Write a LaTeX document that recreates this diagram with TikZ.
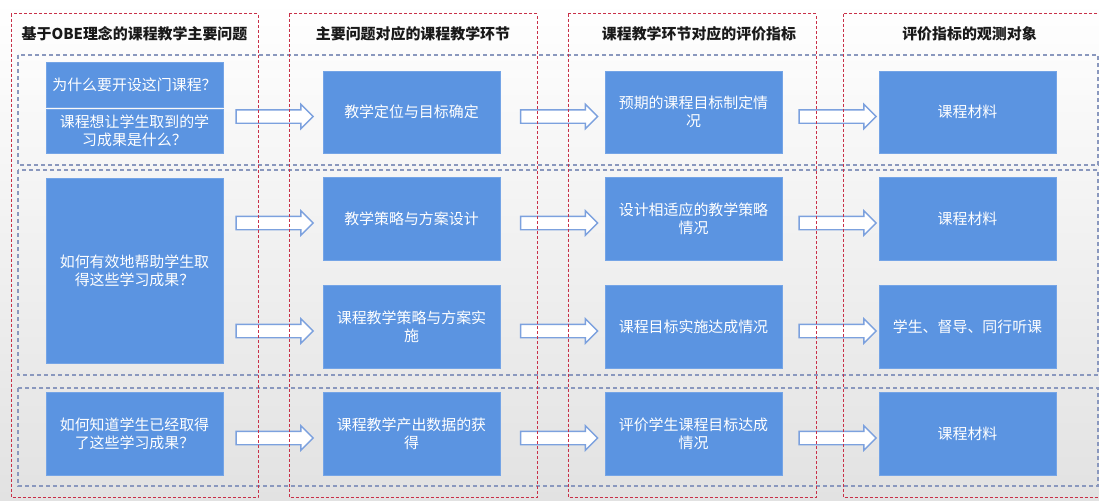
\documentclass[tikz,border=0pt]{standalone}
\usepackage{fontspec}
\newfontfamily\cjk{Noto Sans CJK SC}
\usetikzlibrary{shapes.arrows,calc}
\definecolor{boxblue}{RGB}{91,148,225}
\definecolor{redline}{RGB}{200,48,72}
\definecolor{rowline}{RGB}{138,152,190}
\definecolor{arrowline}{RGB}{124,161,222}
\definecolor{bgbottom}{RGB}{226,226,226}
\begin{document}
\begin{tikzpicture}[x=0.75pt,y=-0.75pt,
  box/.style={fill=boxblue, draw=boxblue!85!white, line width=0.4pt, text=white,
    minimum width=132.75pt, minimum height=62.25pt, inner sep=2pt, align=center,
    font=\cjk\fontsize{11.2pt}{13.6pt}\selectfont},
  coltitle/.style={font=\cjk\bfseries\fontsize{11.2pt}{13pt}\selectfont, text=black!90, inner sep=0pt},
  colframe/.style={draw=redline, line width=0.65pt, dash pattern=on 2.25pt off 1.5pt},
  rowframe/.style={draw=rowline, line width=0.9pt, dash pattern=on 3pt off 2.25pt},
  barrow/.style={single arrow, draw=arrowline, fill=white, line width=1.1pt,
    minimum height=57.75pt, single arrow head extend=4.1pt, inner xsep=0pt,
    inner ysep=4.5pt, single arrow tip angle=90}
]
\clip (0,0) rectangle (1099,500);
\shade[top color=white, bottom color=bgbottom] (0,0) rectangle (1099,500);

% row frames
\draw[rowframe] (18,55) rectangle (1098,165);
\draw[rowframe] (18,170) rectangle (1098,375);
\draw[rowframe] (18,388) rectangle (1098,486);

% titles
\node[coltitle] (h1) at (134.5,34) {基于OBE理念的课程教学主要问题};
\node[coltitle] (h2) at (413,34) {主要问题对应的课程教学环节};
\node[coltitle] (h3) at (699,34) {课程教学环节对应的评价指标};
\node[coltitle] (h4) at (969.5,34) {评价指标的观测对象};

% column 1
\node[box, minimum height=33.75pt] (q1a) at (134.5,84.5) {为什么要开设这门课程？};
\node[box, minimum height=33pt] (q1b) at (134.5,131) {课程想让学生取到的学\\习成果是什么？};
\node[box, minimum height=138.75pt] (q2) at (134.5,270.5) {如何有效地帮助学生取\\得这些学习成果？};
\node[box] (q3) at (134.5,433.5) {如何知道学生已经取得\\了这些学习成果？};

% column 2
\node[box, minimum height=61.5pt] (s1) at (411.5,112) {教学定位与目标确定};
\node[box] (s2) at (411.5,218.5) {教学策略与方案设计};
\node[box] (s3) at (411.5,326.5) {课程教学策略与方案实\\施};
\node[box] (s4) at (411.5,433.5) {课程教学产出数据的获\\得};

% column 3
\node[box, minimum height=61.5pt] (t1) at (693.5,112) {预期的课程目标制定情\\况};
\node[box] (t2) at (693.5,218.5) {设计相适应的教学策略\\情况};
\node[box] (t3) at (693.5,326.5) {课程目标实施达成情况};
\node[box] (t4) at (693.5,433.5) {评价学生课程目标达成\\情况};

% column 4
\node[box, minimum height=61.5pt] (u1) at (967.5,112) {课程材料};
\node[box] (u2) at (967.5,218.5) {课程材料};
\node[box] (u3) at (967.5,326.5) {学生、督导、同行听课};
\node[box] (u4) at (967.5,433.5) {课程材料};

% block arrows
\foreach \n in {1,2,3,4}{
  \node[barrow] (ar\n) at ($(s\n.west)+(-51.5,4.5)$) {};
  \node[barrow] (br\n) at ($(t\n.west)+(-49,4.5)$) {};
  \node[barrow] (cr\n) at ($(u\n.west)+(-44.5,4.5)$) {};
}

% column frames
\draw[colframe] (11,13.5) rectangle (258,497);
\draw[colframe] (289,13.5) rectangle (537,497);
\draw[colframe] (568,13.5) rectangle (816,497);
\draw[colframe] (843,13.5) rectangle (1104,497);
\end{tikzpicture}
\end{document}
